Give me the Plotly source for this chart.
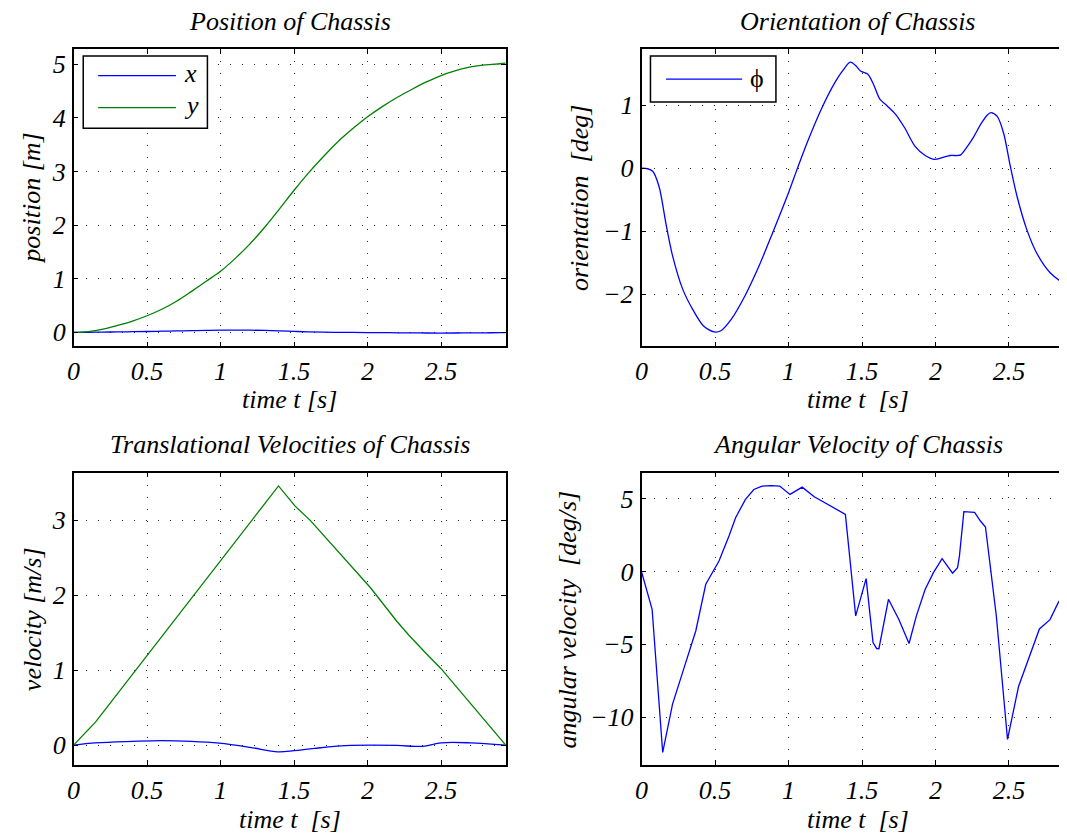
import plotly.graph_objects as go

# page body has an 8px margin: the figure is placed at (8, 8) in the window
OFF = 8
W, H = 1067 - OFF, 835 - OFF

# ---------------- data ----------------
t_pos = [0, 0.1, 0.2, 0.3, 0.4, 0.5, 0.6, 0.7, 0.8, 0.9, 1.0, 1.1, 1.2, 1.3, 1.4, 1.5,
         1.6, 1.7, 1.8, 1.9, 2.0, 2.1, 2.2, 2.3, 2.4, 2.5, 2.6, 2.7, 2.8, 2.9, 2.94]
y_pos = [0, 0.015, 0.06, 0.13, 0.21, 0.31, 0.43, 0.58, 0.76, 0.95, 1.14, 1.38, 1.65, 1.96,
         2.3, 2.65, 2.98, 3.28, 3.56, 3.8, 4.02, 4.21, 4.38, 4.53, 4.67, 4.79, 4.88, 4.95,
         4.99, 5.01, 5.02]
x_pos = [0, 0.002, 0.005, 0.008, 0.012, 0.016, 0.021, 0.026, 0.031, 0.036, 0.04, 0.041,
         0.04, 0.036, 0.028, 0.018, 0.009, 0.003, 0, -0.002, -0.004, -0.006, -0.008, -0.01,
         -0.012, -0.013, -0.012, -0.01, -0.008, -0.006, -0.005]

t_phi = [0, 0.04, 0.076, 0.12, 0.166, 0.21, 0.28, 0.35, 0.42, 0.494, 0.54, 0.61, 0.705,
         0.8, 0.893, 1.0, 1.058, 1.128, 1.222, 1.316, 1.37, 1.42, 1.46, 1.49, 1.54, 1.58,
         1.62, 1.67, 1.73, 1.79, 1.86, 1.93, 1.99, 2.05, 2.1, 2.15, 2.172, 2.216, 2.261,
         2.306, 2.351, 2.378, 2.42, 2.464, 2.509, 2.555, 2.622, 2.689, 2.78, 2.892, 2.94]
phi = [0, -0.01, -0.05, -0.3, -0.88, -1.38, -1.92, -2.25, -2.5, -2.6, -2.58, -2.4, -2.02,
       -1.55, -1.02, -0.39, -0.02, 0.41, 0.93, 1.36, 1.55, 1.68, 1.62, 1.54, 1.49, 1.32,
       1.1, 0.99, 0.85, 0.64, 0.35, 0.2, 0.14, 0.17, 0.2, 0.2, 0.21, 0.34, 0.5, 0.69, 0.84,
       0.88, 0.82, 0.55, 0.03, -0.45, -0.98, -1.35, -1.66, -1.86, -1.92]

t_vy = [0, 0.15, 1.394, 1.507, 1.61, 1.8, 2.02, 2.2, 2.28, 2.4, 2.5, 2.94]
vy = [0, 0.31, 3.46, 3.19, 3.0, 2.58, 2.1, 1.65, 1.47, 1.22, 1.02, 0]
t_vx = [0, 0.15, 0.4, 0.6, 0.8, 0.99, 1.2, 1.39, 1.5, 1.64, 1.89, 2.2, 2.34, 2.4, 2.5,
        2.7, 2.94]
vx = [0, 0.03, 0.05, 0.06, 0.05, 0.025, -0.03, -0.09, -0.075, -0.044, -0.005, -0.005,
      -0.018, -0.01, 0.03, 0.03, 0.0]

t_w = [0, 0.072, 0.144, 0.211, 0.279, 0.369, 0.437, 0.493, 0.527, 0.595, 0.64, 0.707,
       0.764, 0.82, 0.88, 0.94, 1.01, 1.093, 1.175, 1.387, 1.41, 1.457, 1.528, 1.575, 1.6,
       1.615, 1.68, 1.75, 1.82, 1.87, 1.93, 1.986, 2.045, 2.116, 2.15, 2.163, 2.193, 2.266,
       2.306, 2.34, 2.414, 2.49, 2.565, 2.632, 2.707, 2.779, 2.835, 2.892, 2.94]
w = [0, -2.59, -12.43, -9.11, -6.94, -4.08, -0.87, 0.16, 0.73, 2.45, 3.71, 4.97, 5.65,
     5.88, 5.92, 5.88, 5.31, 5.81, 5.15, 3.94, 1.76, -3.04, -0.48, -4.87, -5.29, -5.3,
     -1.9, -3.27, -4.94, -3.04, -1.21, -0.07, 0.89, -0.11, 0.27, 1.08, 4.12, 4.08, 3.48,
     3.07, -3.05, -11.54, -7.9, -6.1, -3.94, -3.3, -2.13, -1.26, -0.6]

x_ticks = [0, 0.5, 1, 1.5, 2, 2.5]
x_ticklabels = ["0", "0.5", "1", "1.5", "2", "2.5"]

titles = ["Position of Chassis", "Orientation of Chassis",
          "Translational Velocities of Chassis", "Angular Velocity of Chassis"]
xlabels = ["time t [s]", "time t\u00a0 [s]", "time t\u00a0 [s]", "time t\u00a0 [s]"]
ylabels = ["position [m]", "orientation\u00a0 [deg]", "velocity [m/s]",
           "angular velocity\u00a0 [deg/s]"]

BLUE = "#0000ff"
GREEN = "#008000"
FONT = "Liberation Serif"
FS = 26


def px(x):
    return (x - OFF) / W


def py(y):
    return 1 - (y - OFF) / H


fig = go.Figure()
fig.add_trace(go.Scatter(x=t_pos, y=x_pos, mode="lines", name="x", line=dict(color=BLUE, width=1.3, shape="spline"), xaxis="x", yaxis="y"))
fig.add_trace(go.Scatter(x=t_pos, y=y_pos, mode="lines", name="y", line=dict(color=GREEN, width=1.3, shape="spline"), xaxis="x", yaxis="y"))
fig.add_trace(go.Scatter(x=t_phi, y=phi, mode="lines", name="\u03d5", line=dict(color=BLUE, width=1.3, shape="spline", smoothing=0.8), xaxis="x2", yaxis="y2"))
fig.add_trace(go.Scatter(x=t_vx, y=vx, mode="lines", name="vx", line=dict(color=BLUE, width=1.3, shape="spline"), xaxis="x3", yaxis="y3"))
fig.add_trace(go.Scatter(x=t_vy, y=vy, mode="lines", name="vy", line=dict(color=GREEN, width=1.3), xaxis="x3", yaxis="y3"))
fig.add_trace(go.Scatter(x=t_w, y=w, mode="lines", name="w", line=dict(color=BLUE, width=1.3), xaxis="x4", yaxis="y4"))

# axes geometry (window pixels)
L_left, L_right = 67, 502
R_left = 638.7
R_right = R_left + (L_right - L_left)
top_t, top_b = 49.3, 346.7
bot_t, bot_b = 473.3, 766.0
xscale = (L_right - L_left) / 2.94

tickfont = dict(family=FONT, size=FS, color="black", style="italic")
GRID = dict(showgrid=True, gridcolor="rgba(0,0,0,0.85)", gridwidth=1, griddash="1px,11px")


def xaxis(domain, rng, anchor):
    return dict(domain=domain, range=rng, anchor=anchor, tickvals=x_ticks, ticktext=x_ticklabels,
                ticks="inside", ticklen=5, tickwidth=1, tickcolor="black", showline=True,
                linecolor="black", linewidth=1.5, mirror="ticks", zeroline=False,
                tickfont=tickfont, ticklabelstandoff=1, **GRID)


def yaxis(domain, rng, anchor, tv, mirror):
    return dict(domain=domain, range=rng, anchor=anchor, tickvals=tv, ticks="inside",
                ticklen=5, tickwidth=1, tickcolor="black", showline=True, linecolor="black",
                linewidth=1.5, mirror=mirror, zeroline=False, tickfont=tickfont,
                ticklabelstandoff=1, **GRID)


dl = [px(L_left), px(L_right)]
dr = [px(R_left), 1.0]
right_max = (1067 - R_left) / xscale
dt = [py(top_b), py(top_t)]
db = [py(bot_b), py(bot_t)]

fig.update_layout(
    width=W, height=H, margin=dict(l=0, r=0, t=0, b=0),
    paper_bgcolor="white", plot_bgcolor="white", showlegend=False,
    font=dict(family=FONT, size=FS, color="black"),
    xaxis=xaxis(dl, [0, 2.94], "y"),
    yaxis=yaxis(dt, [-0.26, 5.28], "x", [0, 1, 2, 3, 4, 5], "ticks"),
    xaxis2=xaxis(dr, [0, right_max], "y2"),
    yaxis2=yaxis(dt, [-2.827, 1.886], "x2", [-2, -1, 0, 1], False),
    xaxis3=xaxis(dl, [0, 2.94], "y3"),
    yaxis3=yaxis(db, [-0.267, 3.636], "x3", [0, 1, 2, 3], "ticks"),
    xaxis4=xaxis(dr, [0, right_max], "y4"),
    yaxis4=yaxis(db, [-13.30, 6.80], "x4", [-10, -5, 0, 5], False),
)

cx_l = (L_left + L_right) / 2
cx_r = (R_left + R_right) / 2
ann = []


def A(text, x, y, angle=0, italic=True, xanchor="center"):
    ann.append(dict(text=text, x=px(x), y=py(y), xref="paper", yref="paper", showarrow=False,
                    xanchor=xanchor, yanchor="middle", textangle=angle,
                    font=dict(family=FONT, size=FS, color="black",
                              style="italic" if italic else "normal")))


A(titles[0], cx_l, 22)
A(titles[1], cx_r, 22)
A(titles[2], cx_l, 445)
A(titles[3], cx_r, 445)
A(xlabels[0], cx_l, 400)
A(xlabels[1], cx_r, 400)
A(xlabels[2], cx_l, 820)
A(xlabels[3], cx_r, 820)
A(ylabels[0], 25, 198, -90)
A(ylabels[1], 577, 198, -90)
A(ylabels[2], 25, 620, -90)
A(ylabels[3], 564, 620, -90)

# legends
shapes = []


def rect(x0, y0, x1, y1):
    shapes.append(dict(type="rect", xref="paper", yref="paper", x0=px(x0), x1=px(x1),
                       y0=py(y1), y1=py(y0), line=dict(color="black", width=1.5),
                       fillcolor="white", layer="above"))


def seg(x0, x1, y, color):
    shapes.append(dict(type="line", xref="paper", yref="paper", x0=px(x0), x1=px(x1),
                       y0=py(y), y1=py(y), line=dict(color=color, width=1.3), layer="above"))


rect(76.7, 56, 201.7, 128.3)
seg(91.7, 170, 75.7, BLUE)
seg(91.7, 170, 107.7, GREEN)
A("x", 176, 74, xanchor="left")
A("y", 176, 106, xanchor="left")

rect(647.7, 56, 774, 102)
seg(663.3, 740, 79.3, BLUE)
A("\u03d5", 746, 79, italic=False, xanchor="left")

fig.update_layout(annotations=ann, shapes=shapes)
fig.write_html("out.html")
